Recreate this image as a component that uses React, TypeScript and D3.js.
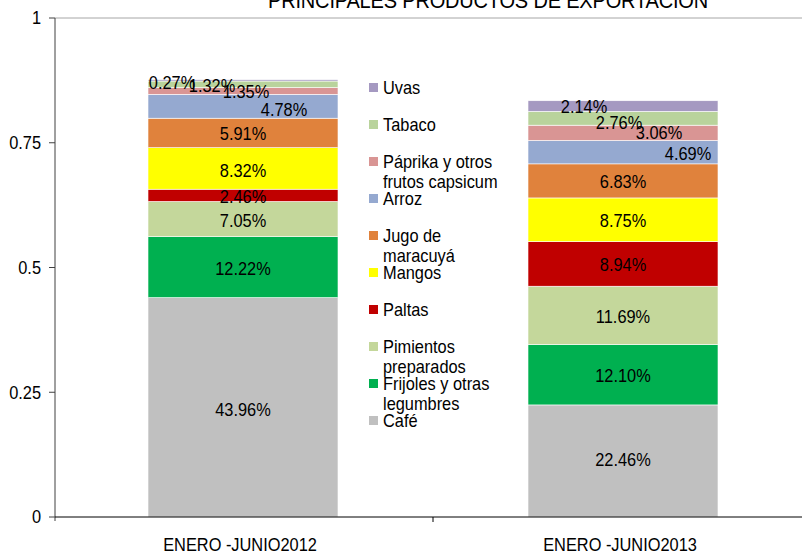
import React from "react";
import * as d3 from "d3";

const categories = ["ENERO -JUNIO2012", "ENERO -JUNIO2013"];
const seriesNames = [
  "Café",
  "Frijoles y otras legumbres",
  "Pimientos preparados",
  "Paltas",
  "Mangos",
  "Jugo de maracuyá",
  "Arroz",
  "Páprika y otros frutos capsicum",
  "Tabaco",
  "Uvas",
];
const values2012 = [43.96, 12.22, 7.05, 2.46, 8.32, 5.91, 4.78, 1.35, 1.32, 0.27];
const values2013 = [22.46, 12.1, 11.69, 8.94, 8.75, 6.83, 4.69, 3.06, 2.76, 2.14];
const yTicks = [0, 0.25, 0.5, 0.75, 1];
const title = "PRINCIPALES PRODUCTOS DE EXPORTACION";

// legend lines (wrapped like the original)
const legendLines = [
  ["Café"],
  ["Frijoles y otras", "legumbres"],
  ["Pimientos", "preparados"],
  ["Paltas"],
  ["Mangos"],
  ["Jugo de", "maracuyá"],
  ["Arroz"],
  ["Páprika y otros", "frutos capsicum"],
  ["Tabaco"],
  ["Uvas"],
];

// styles
const colors = [
  "#C0C0C0",
  "#00B050",
  "#C4D79B",
  "#C00000",
  "#FFFF00",
  "#E0823C",
  "#95A9D0",
  "#D99594",
  "#B9D39C",
  "#A599C1",
];
// label offsets (layout only)
const labelDx = [
  [0, 0, 0, 0, 0, 0, 41, 3, -31, -71],
  [0, 0, 0, 0, 0, 0, 65, 36, -4, -39],
];
const labelDy = [
  [2, 2, 2, 1, 2, 1, 3, 1, 1, 2],
  [-1, 1, 1, 1, 1, 1, 2, 0, 4, 1],
];

const W = 802;
const H = 551;
const FONT = "'Liberation Sans', Arial, sans-serif";
const SX = 0.91;

function T({
  x,
  y,
  size = 18,
  anchor = "start",
  baseline = "central",
  children,
  ls = 0,
}: {
  x: number;
  y: number;
  size?: number;
  anchor?: string;
  baseline?: string;
  children: React.ReactNode;
  ls?: number;
}) {
  return (
    <g transform={`translate(${x},${y}) scale(${SX},1)`}>
      <text
        x={0}
        y={0}
        textAnchor={anchor as any}
        dominantBaseline={baseline as any}
        fontSize={size}
        letterSpacing={ls}
        fill="#000"
      >
        {children}
      </text>
    </g>
  );
}

export default function App() {
  const y = d3.scaleLinear().domain([0, 1]).range([517, 18]);
  const x = d3
    .scaleBand<string>()
    .domain(categories)
    .range([53, 813])
    .paddingInner(0.5)
    .paddingOuter(0.25);
  const data = [values2012, values2013];
  const stacks = data.map((vals) => {
    let acc = 0;
    return vals.map((v) => {
      const y0 = acc;
      acc += v / 100;
      return [y0, acc];
    });
  });
  const fmt = d3.format("~g");
  const axisX = 55;
  const legendOrder = d3.range(seriesNames.length).reverse();

  return (
    <svg
      width={W}
      height={H}
      style={{ position: "absolute", left: 0, top: 0, background: "#fff" }}
      fontFamily={FONT}
    >
      <rect x={0} y={0} width={W} height={H} fill="#fff" />
      {/* top border */}
      <line x1={axisX} x2={W} y1={18} y2={18} stroke="#a6a6a6" strokeWidth={1} />
      {/* bars */}
      {categories.map((c, ci) => (
        <g key={c}>
          {stacks[ci].map(([a, b], si) => (
            <rect
              key={si}
              x={x(c)}
              width={x.bandwidth()}
              y={y(b)}
              height={y(a) - y(b)}
              fill={colors[si]}
              stroke="#fff"
              strokeWidth={0.6}
            />
          ))}
        </g>
      ))}
      {/* labels */}
      {categories.map((c, ci) => (
        <g key={c + "l"}>
          {stacks[ci].map(([a, b], si) => (
            <T
              key={si}
              x={(x(c) as number) + x.bandwidth() / 2 + labelDx[ci][si]}
              y={y((a + b) / 2) + labelDy[ci][si]}
              anchor="middle"
            >
              {data[ci][si].toFixed(2) + "%"}
            </T>
          ))}
        </g>
      ))}
      {/* y axis */}
      <line x1={axisX} x2={axisX} y1={18} y2={521} stroke="#404040" strokeWidth={1} />
      {yTicks.map((t) => (
        <g key={t}>
          <line x1={axisX - 6} x2={axisX} y1={y(t)} y2={y(t)} stroke="#404040" />
          <T x={axisX - 14} y={y(t)} anchor="end">
            {fmt(t)}
          </T>
        </g>
      ))}
      {/* x axis */}
      <line x1={axisX} x2={W} y1={517} y2={517} stroke="#000" strokeWidth={1} />
      {categories.slice(1).map((c) => {
        const tx = (x(c) as number) - x.step() * x.paddingInner() * 0.5;
        return <line key={c} x1={tx} x2={tx} y1={517} y2={522} stroke="#000" />;
      })}
      {categories.map((c) => (
        <T key={c + "t"} x={(x(c) as number) + x.bandwidth() / 2 - 3} y={545} anchor="middle">
          {c}
        </T>
      ))}
      {/* legend */}
      {legendOrder.map((si, i) => {
        const ly = 87.5 + i * 37;
        return (
          <g key={"lg" + si}>
            <rect x={369} y={ly - 4.5} width={9} height={9} fill={colors[si]} />
            {legendLines[si].map((line, li) => (
              <T key={li} x={383} y={ly + li * 20.5}>
                {line}
              </T>
            ))}
          </g>
        );
      })}
      {/* title */}
      <T x={488} y={8} size={22} anchor="middle" baseline="auto" ls={-0.2}>
        {title}
      </T>
    </svg>
  );
}
